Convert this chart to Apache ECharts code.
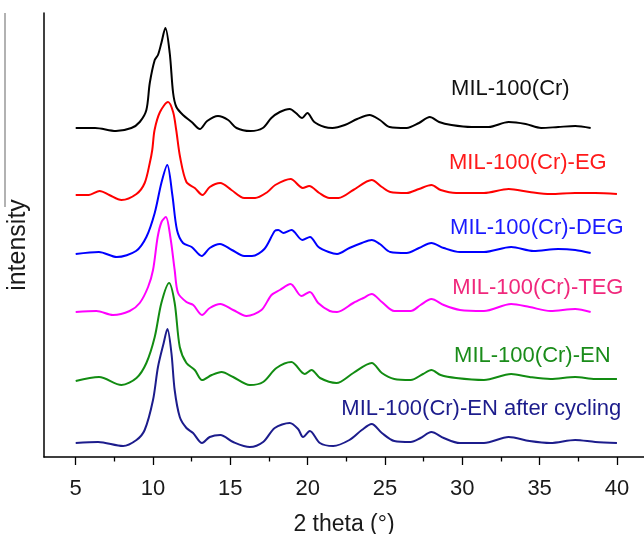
<!DOCTYPE html>
<html><head><meta charset="utf-8">
<script src="https://cdn.jsdelivr.net/npm/echarts@6/dist/echarts.min.js"></script>
<style>html,body{margin:0;padding:0;background:#fff}#c{width:644px;height:534px}</style>
</head><body><div id="c"></div>
<script>
// 2 theta values and (vertically offset) intensities
const xCr  = [5,6.25,7.6,8.6,9.14,9.57,9.79,10.11,10.32,10.54,10.8,11.08,11.3,11.51,11.94,12.5,13.03,13.5,14.2,14.86,15.4,16.3,17.1,17.65,18.2,18.84,19.24,19.64,19.98,20.43,21.1,21.6,22.4,23.2,24.0,24.67,25.3,26.4,27.2,27.9,28.5,29.3,30.6,31.7,33.0,34.1,35.1,36.2,37.3,38.3];
const yCr  = [329,329,326,329,335,347,374,397,402,414,429,404,364,350,342,335,328,336,341,337,329,326,329,339,345,348,344,339,344,335,330,329,332,338,342,337,330,329,334,340,335,332,330,330,335,333,329,330,331,329];
const xEG  = [5,5.85,6.55,7.17,7.96,8.93,9.46,9.79,9.95,10.1,10.45,10.97,11.3,11.5,11.75,12.16,12.7,13.2,13.67,14.35,15.07,15.9,16.6,17.4,17.9,18.9,19.68,20.1,20.75,21.4,22.0,22.95,24.14,24.8,25.34,26.4,27.2,28.0,28.6,29.6,31.4,33.0,34.35,35.7,37.3,38.6,40];
const yEG  = [262,262,266,262,257,263,274,294,307,327,345,355,345,327,300,275,269,262,270,274,267,259,259,265,272,278,269,271,264,259,259,267,277,270,265,264,268,272,267,264,264,268,265,263,264,264,263];
const xDEG = [5,6.5,7.65,8.9,9.57,10.11,10.54,10.92,11.25,11.55,11.94,12.5,13.15,13.67,14.33,15.1,15.9,16.4,17.2,17.87,18.1,18.44,18.95,19.66,20.15,20.7,21.36,21.9,22.7,23.5,24.14,24.67,25.34,26.4,27.2,28.0,28.8,29.85,31.4,33.16,34.6,36.2,37.3,38.3];
const yDEG = [203,205,200,206,220,244,274,292,262,227,214,210,201,209,213,207,201,201,208,226,227,224,227,217,220,210,205,203,209,214,217,213,205,204,209,214,209,205,205,210,206,208,207,204];
const xTEG = [5,6.34,7.41,8.49,9.14,9.68,10.0,10.3,10.55,10.83,11.12,11.4,11.62,12.16,12.6,13.17,13.67,14.35,15.18,16.04,17.01,17.66,18.2,18.89,19.6,20.14,20.68,21.43,21.9,22.95,23.6,24.14,24.8,25.6,26.66,27.3,28.0,28.8,29.85,31.4,33.16,34.35,35.7,37.3,38.3];
const yTEG = [145,146,142,146,154,170,187,220,235,240,220,187,164,155,152,142,149,153,147,141,147,162,167,173,161,165,154,146,145,154,159,163,155,146,146,152,158,152,147,146,153,150,146,148,145];
const xEN  = [5,6.51,7.96,8.93,9.57,10.11,10.54,11.04,11.4,11.73,12.16,12.7,13.17,13.8,14.43,15.18,16.26,17.12,17.98,18.95,19.81,20.25,20.8,21.86,22.95,24.14,24.8,25.6,26.66,27.46,28.0,28.6,29.6,31.4,33.16,34.35,35.7,37.3,38.6,40];
const yEN  = [76,80,72,79,94,120,154,174,154,110,94,87,77,82,85,80,72,75,89,95,83,87,79,74,84,94,84,78,77,83,87,82,79,77,83,80,78,80,78,78];
const xENc = [5,6.45,8.06,8.93,9.46,10.0,10.32,10.69,10.93,11.19,11.4,11.73,12.16,12.59,13.17,13.67,14.35,15.18,16.26,17.12,17.87,18.84,19.38,19.7,20.14,20.79,21.65,22.7,23.5,24.14,24.8,25.6,26.66,27.3,28.0,28.8,29.85,31.4,33.0,34.35,35.7,37.3,38.6,40];
const yENc = [14,15,11,17,27,57,90,114,128,104,67,40,29,24,14,20,22,15,10,15,29,34,28,20,26,14,11,17,27,33,24,16,15,19,25,19,14,14,20,16,14,17,15,14];

const names = ['MIL-100(Cr)','MIL-100(Cr)-EG','MIL-100(Cr)-DEG','MIL-100(Cr)-TEG','MIL-100(Cr)-EN','MIL-100(Cr)-EN after cycling'];
const xs = [xCr,xEG,xDEG,xTEG,xEN,xENc];
const ys = [yCr,yEG,yDEG,yTEG,yEN,yENc];
const lineColors  = ['#000000','#ff0000','#0000ff','#ff00ff','#128c12','#1c1c8c'];
const labelColors = ['#111111','#ff1a1a','#1a1aff','#f0287c','#1a8c1a','#1c1c8c'];
const labelX = [33.11,34.24,34.82,34.89,34.53,31.23];
const labelY = [368,294,229,169,101,48];
const majorTicks = [5,10,15,20,25,30,35,40];
const minorTicks = [7.5,12.5,17.5,22.5,27.5,32.5,37.5];

const FONT = 'Liberation Sans, Arial, sans-serif';
const chart = echarts.init(document.getElementById('c'), null, {renderer:'canvas'});

const series = names.map((n,i)=>({
  type:'line', name:n, xAxisIndex:0, yAxisIndex:0,
  data: xs[i].map((x,k)=>[x, ys[i][k]]),
  showSymbol:false, smooth:0.3,
  lineStyle:{color:lineColors[i], width:2},
  itemStyle:{color:lineColors[i]}, silent:true, animation:false
}));
series.push({
  type:'scatter', xAxisIndex:0, yAxisIndex:0, symbolSize:1, silent:true, animation:false,
  itemStyle:{color:'rgba(255,255,255,0)', opacity:1},
  label:{show:true, position:'inside', formatter:'{b}', fontSize:22, fontFamily:FONT, opacity:1},
  emphasis:{disabled:true},
  data: names.map((n,i)=>({name:n, value:[labelX[i], labelY[i]], label:{color:labelColors[i], opacity:1}}))
});

chart.setOption({
  animation:false,
  backgroundColor:'#ffffff',
  grid:{left:44, right:0, top:13, bottom:77, containLabel:false, outerBoundsMode:'none'},
  xAxis:[{
    type:'value', min:2.95, max:41.75, position:'bottom',
    axisLine:{show:true, lineStyle:{color:'#000', width:1.5}},
    axisTick:{show:true, length:8, inside:false, customValues:majorTicks, lineStyle:{color:'#000', width:1.3}},
    axisLabel:{show:true, customValues:majorTicks, fontSize:22, fontFamily:FONT, color:'#1a1a1a', margin:21},
    splitLine:{show:false},
    name:'2 theta (°)', nameLocation:'middle', nameGap:56,
    nameTextStyle:{fontSize:23, fontFamily:FONT, color:'#1a1a1a'}
  },{
    type:'value', min:2.95, max:41.75, position:'bottom',
    axisLine:{show:false},
    axisTick:{show:true, length:4.5, inside:false, customValues:minorTicks, lineStyle:{color:'#000', width:1.3}},
    axisLabel:{show:false},
    splitLine:{show:false}
  }],
  yAxis:{
    type:'value', min:0, max:444,
    axisLine:{show:true, lineStyle:{color:'#000', width:1.5}},
    axisTick:{show:false}, axisLabel:{show:false}, splitLine:{show:false},
    name:'intensity', nameLocation:'middle', nameGap:13,
    nameTextStyle:{fontSize:25, fontFamily:FONT, color:'#1a1a1a', padding:[0,20,0,0]}
  },
  graphic:[{type:'line', silent:true, shape:{x1:5, y1:13, x2:5, y2:207}, style:{stroke:'#999', lineWidth:1.5}}],
  series: series
});
</script>
</body></html>
